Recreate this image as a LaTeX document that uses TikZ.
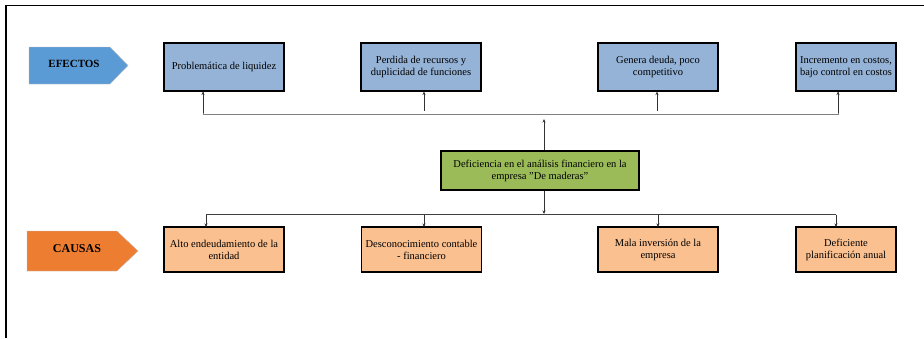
\documentclass[tikz,border=0pt]{standalone}
\usepackage{fontspec}
\setmainfont{Liberation Serif}
\usetikzlibrary{arrows.meta}
\definecolor{efblue}{HTML}{5B9BD5}
\definecolor{cauorange}{HTML}{ED7D31}
\definecolor{boxblue}{HTML}{95B3D7}
\definecolor{boxorange}{HTML}{FAC090}
\definecolor{boxgreen}{HTML}{9BBB59}
\definecolor{linegray}{HTML}{7F7F7F}
\tikzset{
  every node/.style={font=\fontsize{10.5}{12}\selectfont},
  ebox/.style={draw=black, line width=1.6pt, fill=boxblue, align=center, minimum width=120pt, minimum height=48pt, inner sep=1pt},
  cbox/.style={draw=black, line width=1.6pt, fill=boxorange, align=center, minimum width=120pt, minimum height=45pt, inner sep=1pt},
  gbox/.style={draw=black, line width=1.6pt, fill=boxgreen, align=center, minimum width=198pt, minimum height=39pt, inner sep=1pt},
  conn/.style={line width=0.7pt, draw=linegray},
  arr/.style={line width=0.6pt, draw=black!80, -{Stealth[length=3.5pt,width=3pt]}},
}
\begin{document}
\begin{tikzpicture}[x=1pt,y=-1pt]
\useasboundingbox (0,0) rectangle (924,338);
% page frame
\draw[line width=1.2pt] (6,338) -- (6,5.5) -- (924,5.5);
% tag arrows
\fill[efblue, draw=gray!50] (29,47) -- (110,47) -- (128,65.5) -- (110,84) -- (29,84) -- cycle;
\node[font=\fontsize{11}{13}\selectfont\bfseries] (efe) at (74,63.5) {EFECTOS};
\fill[cauorange, draw=gray!50] (27,231) -- (117,231) -- (138,251) -- (117,271) -- (27,271) -- cycle;
\node[font=\fontsize{12}{14}\selectfont\bfseries] (cau) at (77,248.5) {CAUSAS};
% effect boxes
\node[ebox] (e1) at (224,67) {Problemática de liquidez};
\node[ebox] (e2) at (421,67) {Perdida de recursos y\\duplicidad de funciones};
\node[ebox] (e3) at (658,67) {Genera deuda, poco\\competitivo};
\node[ebox, minimum width=100pt] (e4) at (846,67) {Incremento en costos,\\bajo control en costos};
% central box
\node[gbox] (c) at (540,170.5) {Deficiencia en el análisis financiero en la\\empresa "De maderas"};
% cause boxes
\node[cbox] (k1) at (224,249.5) {Alto endeudamiento de la\\entidad};
\node[cbox] (k2) at (421.5,249.5) {Desconocimiento contable\\- financiero};
\node[cbox] (k3) at (658,249.5) {Mala inversión de la\\empresa};
\node[cbox, minimum width=100pt] (k4) at (846,249.5) {Deficiente\\planificación anual};
% top connectors
\coordinate (tl) at (203,114.5);
\coordinate (tr) at (838,114.5);
\draw[conn] (tl) -- (tr);
\draw[conn] (tl) -- (tl |- e1.south);
\draw[conn] (tr) -- (tr |- e4.south);
\draw[arr] (203,113) -- (203,91.5);
\draw[arr] (424,111) -- (424,91.5);
\draw[arr] (657,111) -- (657,91.5);
\draw[arr] (838,113) -- (838,91.5);
\draw[arr] (c.north -| 544,0) -- (544,119);
% bottom connectors
\coordinate (bl) at (206,214.5);
\coordinate (br) at (836,214.5);
\draw[line width=0.7pt, draw=black!75] (bl) -- (br);
\draw[arr] (c.south -| 544,0) -- (544,214);
\draw[arr] (bl) -- (206,227);
\draw[arr] (424,214.5) -- (424,227);
\draw[arr] (658,214.5) -- (658,227);
\draw[arr] (br) -- (836,227);
\end{tikzpicture}
\end{document}
